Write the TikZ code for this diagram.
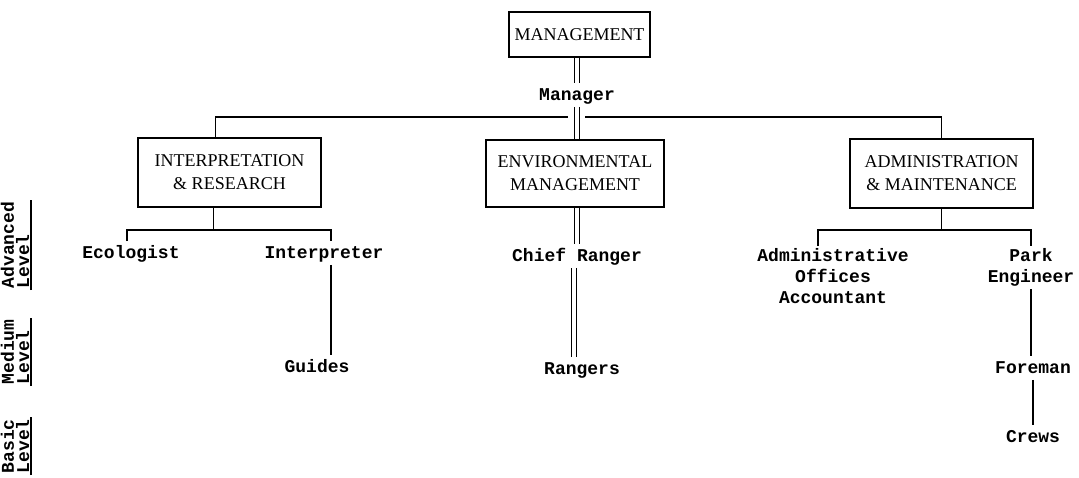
\documentclass[tikz,border=0pt]{standalone}
\usepackage{fontspec}
\setmainfont{Liberation Serif}
\setmonofont{Liberation Mono}

\begin{document}
\begin{tikzpicture}[x=0.5pt, y=-0.5pt, line width=0.8pt,
    box/.style={draw, align=center, inner sep=0pt, font=\fontsize{9}{11.5}\selectfont},
    mono/.style={align=center, inner sep=1pt, font=\ttfamily\bfseries\fontsize{9}{10.5}\selectfont},
    role/.style={mono, text height=7pt, text depth=2pt},
    lvl/.style={mono, rotate=90, align=left, inner sep=0.5pt, font=\ttfamily\bfseries\fontsize{9}{6.5}\selectfont},
    dbl/.style={double, double distance=1.8pt}]
    \useasboundingbox (0,0) rectangle (1079,477);
    % top of the tree
    \node[box, minimum width=70.5pt, minimum height=22.5pt] (mgmt) at (579.5,34.5) {MANAGEMENT};
    \node[role] (manager) at (577,95) {Manager};
    \draw[dbl] (mgmt.south -| manager) -- (manager.north);
    % the three departments
    \node[box, minimum width=91.5pt, minimum height=34.5pt] (ir) at (229.5,172.5) {INTERPRETATION\\\& RESEARCH};
    \node[box, minimum width=89pt, minimum height=33.5pt] (env) at (575,173.5) {ENVIRONMENTAL\\MANAGEMENT};
    \node[box, minimum width=91.5pt, minimum height=34.5pt] (adm) at (941.5,173.5) {ADMINISTRATION\\\& MAINTENANCE};
    \coordinate (gapl) at (568,117);
    \coordinate (gapr) at (585,117);
    \draw ([xshift=-7pt]ir.north) |- (gapl);
    \draw (adm.north) |- (gapr);
    \draw[dbl] (manager.south) -- (manager.south |- env.north);
    % staff
    \node[role] (ecol) at (131,253) {Ecologist};
    \node[role] (interp) at (324,253) {Interpreter};
    \node[role] (guides) at (317,367) {Guides};
    \node[role] (chief) at (577,256) {Chief Ranger};
    \node[role] (rangers) at (582,369) {Rangers};
    \node[mono, anchor=north] (offices) at (833,246) {Administrative\\Offices\\Accountant};
    \node[mono, anchor=north] (park) at (1031,246) {Park\\Engineer};
    \node[role] (foreman) at (1033,368) {Foreman};
    \node[role] (crews) at (1033,437) {Crews};
    \draw ([xshift=-8pt]ir.south) -- ++(0,22) coordinate (irbar);
    \draw ([xshift=-2pt]ecol.north) |- (irbar) -| ([xshift=3.5pt]interp.north);
    \draw ([xshift=3.5pt]interp.south) -- ([xshift=3.5pt]interp.south |- guides.north);
    \draw[dbl] (env.south -| chief) -- (chief.north);
    \draw[dbl] ([xshift=-1.5pt]chief.south) -- ([xshift=-1.5pt]chief.south |- rangers.north);
    \draw (adm.south) -- ++(0,21) coordinate (admbar);
    \draw ([xshift=-7.5pt]offices.north) |- (admbar) -| (park.north);
    \draw (park.south) -- (park.south |- foreman.north);
    \draw (foreman.south) -- (foreman.south |- crews.north);
    % levels
    \node[lvl, anchor=south west] (adv) at (31,290) {Advanced\\Level};
    \node[lvl, anchor=south west] (med) at (31,386) {Medium\\Level};
    \node[lvl, anchor=south west] (bas) at (31,475) {Basic\\Level};
    \foreach \l in {adv,med,bas}
        \draw (\l.south west) -- (\l.south east);
\end{tikzpicture}
\end{document}
